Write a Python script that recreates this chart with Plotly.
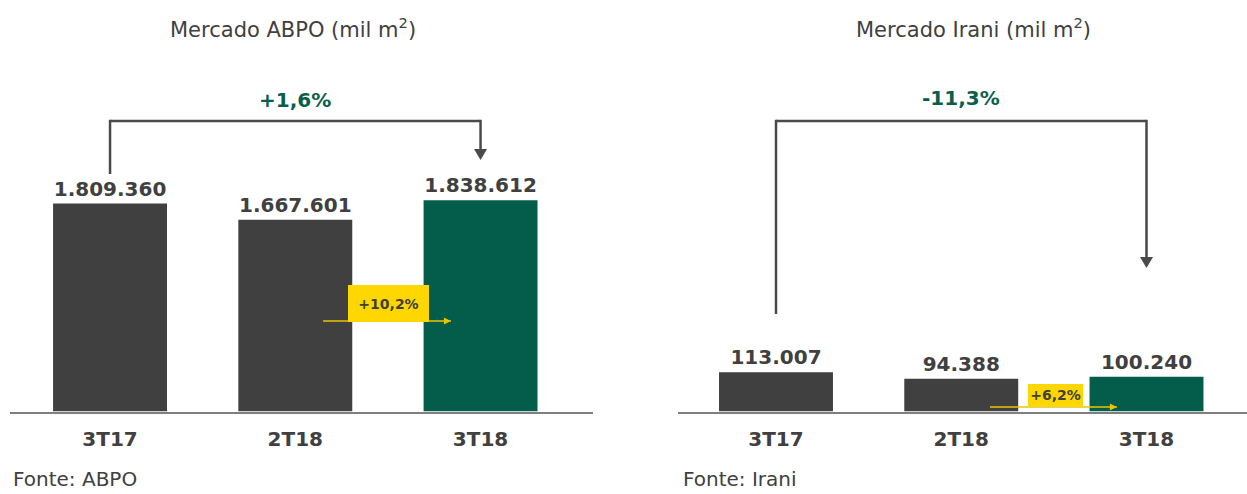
import plotly.graph_objects as go

# ---------------- data ----------------
categories = ["3T17", "2T18", "3T18"]
abpo_values = [1809360, 1667601, 1838612]
irani_values = [113007, 94388, 100240]
abpo_change_total = "+1,6%"
abpo_change_qoq = "+10,2%"
irani_change_total = "-11,3%"
irani_change_qoq = "+6,2%"
titles = ["Mercado ABPO (mil m<sup>2</sup>)", "Mercado Irani (mil m<sup>2</sup>)"]
sources = ["Fonte: ABPO", "Fonte: Irani"]


def fmt(v):
    return f"{v:,}".replace(",", ".")


W, H = 1247, 494
FONT = "DejaVu Sans"
DARK = "#404040"
GREEN = "#045C4B"
YELLOW = "#FFD700"
YLINE = "#EAC400"
TEXT = "#404040"
PCT = "#0B5E4B"
LINE = "#4A4A4A"


def py(p):
    return 1 - p / H


def px(p):
    return p / W


fig = go.Figure()
for vals, xa, ya in [(abpo_values, "x", "y"), (irani_values, "x2", "y2")]:
    fig.add_trace(go.Bar(
        x=categories, y=vals, xaxis=xa, yaxis=ya,
        marker=dict(color=[DARK, DARK, GREEN], line=dict(width=0)),
        width=0.615,
        text=[fmt(v) for v in vals], textposition="outside",
        textfont=dict(family=FONT, size=20, color=TEXT, weight="bold"),
        constraintext="none", cliponaxis=False, showlegend=False,
        hoverinfo="skip",
    ))

base = 411.5
axis_common = dict(type="category", showline=True, linecolor="#7F7F7F", linewidth=2,
                   ticks="outside", ticklen=8, tickcolor="rgba(0,0,0,0)",
                   tickfont=dict(family=FONT, size=20, color=TEXT, weight="bold"),
                   showgrid=False, zeroline=False, fixedrange=True)
fig.update_layout(
    width=W, height=H, margin=dict(l=0, r=0, t=0, b=0),
    paper_bgcolor="white", plot_bgcolor="white",
    xaxis=dict(domain=[px(10), px(593)], range=[-0.54, 2.607], anchor="y", **axis_common),
    yaxis=dict(domain=[py(base), 1], range=[0, base * 8700], visible=False, fixedrange=True),
    xaxis2=dict(domain=[px(678), 1], range=[-0.529, 2.5425], anchor="y2", **axis_common),
    yaxis2=dict(domain=[py(base), 1], range=[0, base * 2880], visible=False, fixedrange=True),
)

shapes = []
annotations = []

# brackets with down arrows
for xr, bottom, tip, pct, pct_y in [("x", 174, 160, abpo_change_total, 100),
                                    ("x2", 314, 268, irani_change_total, 98)]:
    top = 121
    shapes.append(dict(type="line", xref=xr, yref="paper", x0=categories[0], x1=categories[0],
                       y0=py(bottom), y1=py(top - 1.2), line=dict(color=LINE, width=2.5)))
    shapes.append(dict(type="line", xref=xr, yref="paper", x0=categories[0], x1=categories[2],
                       y0=py(top), y1=py(top), line=dict(color=LINE, width=2.5)))
    shapes.append(dict(type="line", xref=xr, yref="paper", x0=categories[2], x1=categories[2],
                       y0=py(top - 1.2), y1=py(tip - 8), line=dict(color=LINE, width=2.5)))
    shapes.append(dict(type="path", xref=xr, yref="paper", xsizemode="pixel", ysizemode="pixel",
                       xanchor=categories[2], yanchor=py(tip),
                       path="M -6.5,11 L 6.5,11 L 0,0 Z",
                       fillcolor=LINE, line=dict(width=0)))
    annotations.append(dict(xref=xr, yref="paper", x=categories[1], y=py(pct_y),
                            xanchor="center", yanchor="middle",
                            text=f"<b>{pct}</b>", showarrow=False,
                            font=dict(family=FONT, size=20, color=PCT)))

# yellow quarter-on-quarter arrows and boxes
for xr, ay_px, x0, x1, txt, bx, by, bw, bh in [
    ("x", 321, 1.15, 1.84, abpo_change_qoq, 1.503, 303.5, 81, 37),
    ("x2", 407, 1.155, 1.84, irani_change_qoq, 1.509, 395, 55, 22),
]:
    shapes.append(dict(type="line", xref=xr, yref="paper", x0=x0, x1=x1,
                       y0=py(ay_px), y1=py(ay_px), line=dict(color=YLINE, width=1.6)))
    shapes.append(dict(type="path", xref=xr, yref="paper", xsizemode="pixel", ysizemode="pixel",
                       xanchor=x1, yanchor=py(ay_px),
                       path="M -7,3.5 L 0,0 L -7,-3.5 Z",
                       fillcolor=YLINE, line=dict(width=0)))
    annotations.append(dict(xref=xr, yref="paper", x=bx, y=py(by), text=f"<b>{txt}</b>",
                            xanchor="center", yanchor="middle",
                            showarrow=False, bgcolor=YELLOW, width=bw, height=bh,
                            borderpad=0, borderwidth=0,
                            font=dict(family=FONT, size=14, color=TEXT)))

# titles and sources
for tx, t in zip([293, 973], titles):
    annotations.append(dict(xref="paper", yref="paper", x=px(tx), y=py(28), text=t,
                            xanchor="center", yanchor="middle",
                            showarrow=False, font=dict(family=FONT, size=21, color=TEXT)))
for sx, s in zip([11, 681], sources):
    annotations.append(dict(xref="paper", yref="paper", x=px(sx), y=py(479), text=s,
                            xanchor="left", yanchor="middle", showarrow=False,
                            font=dict(family=FONT, size=20, color=TEXT)))

fig.update_layout(shapes=shapes, annotations=annotations)
fig.write_html("out.html")
